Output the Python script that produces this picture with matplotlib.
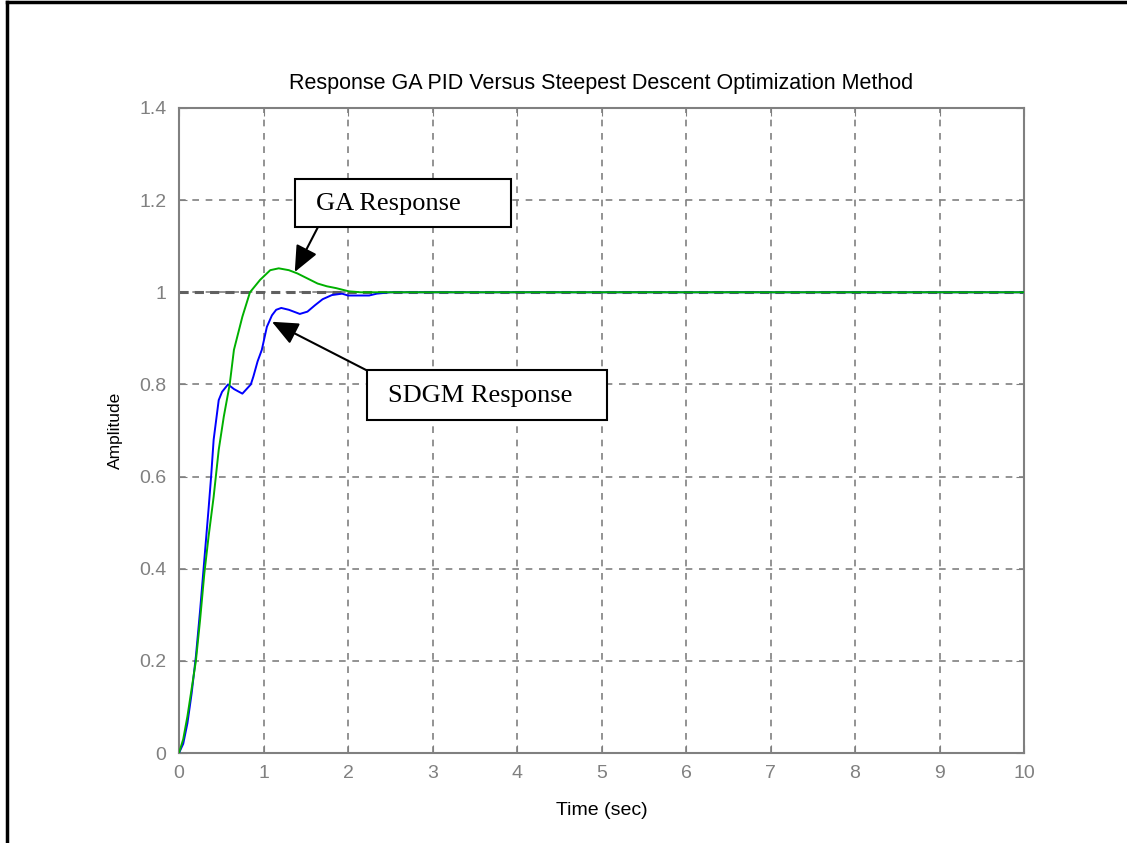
import matplotlib.pyplot as plt
from matplotlib.patches import Rectangle

# step responses
t_sdgm = [0, 0.05, 0.1, 0.15, 0.2, 0.25, 0.3, 0.35, 0.38, 0.41, 0.47, 0.51, 0.58,
          0.65, 0.75, 0.85, 0.88, 0.93, 0.98, 1.04, 1.1, 1.15, 1.21, 1.3, 1.43,
          1.52, 1.61, 1.7, 1.81, 1.93, 2.0, 2.25, 2.34, 2.5, 10]
y_sdgm = [0, 0.02, 0.065, 0.13, 0.21, 0.31, 0.42, 0.53, 0.6, 0.68, 0.766, 0.784, 0.80,
          0.79, 0.78, 0.80, 0.817, 0.85, 0.875, 0.925, 0.95, 0.962, 0.966, 0.962, 0.953,
          0.958, 0.972, 0.985, 0.994, 0.997, 0.993, 0.993, 0.997, 1.0, 1.0]

t_ga = [0, 0.05, 0.1, 0.15, 0.2, 0.25, 0.3, 0.35, 0.41, 0.47, 0.53, 0.6, 0.65, 0.75,
        0.84, 0.96, 1.08, 1.18, 1.3, 1.4, 1.52, 1.64, 1.75, 1.86, 2.01, 2.15, 10]
y_ga = [0, 0.03, 0.08, 0.14, 0.2, 0.29, 0.39, 0.47, 0.556, 0.658, 0.73, 0.80, 0.875, 0.947,
        1.0, 1.027, 1.048, 1.052, 1.048, 1.041, 1.03, 1.019, 1.013, 1.009, 1.002, 1.0, 1.0]

xticks = list(range(0, 11))
yticks = [0, 0.2, 0.4, 0.6, 0.8, 1.0, 1.2, 1.4]
ytick_labels = ['0', '0.2', '0.4', '0.6', '0.8', '1', '1.2', '1.4']

W, H = 1127, 843
plt.rcParams['font.family'] = ['Liberation Sans', 'DejaVu Sans']

fig = plt.figure(figsize=(W / 100, H / 100), dpi=100)
ax = fig.add_axes([179 / W, 1 - 753 / H, 845 / W, 645 / H])

ax.axhline(1.0, color='#606060', linestyle=(0, (3, 2)), linewidth=2.2, zorder=2)
ax.plot(t_sdgm, y_sdgm, color='#0000ff', linewidth=1.4, zorder=3)
ax.plot(t_ga, y_ga, color='#00b000', linewidth=1.4, zorder=4)

ax.set_xlim(0, 10)
ax.set_ylim(0, 1.4)
ax.set_xticks(xticks)
ax.set_yticks(yticks)
ax.set_yticklabels(ytick_labels)
ax.grid(True, color='#808080', linestyle=(0, (4, 4)), linewidth=1.2)
ax.tick_params(direction='in', length=6, colors='#808080', labelsize=14, pad=9,
               top=True, right=True)
for sp in ax.spines.values():
    sp.set_color('#808080')
    sp.set_linewidth(1.5)

ax.set_title('Response GA PID Versus Steepest Descent Optimization Method',
             fontsize=15.5, pad=14)
ax.set_xlabel('Time (sec)', fontsize=14, labelpad=14)
ax.set_ylabel('Amplitude', fontsize=12.5, labelpad=12)


def fig_px(x, y):
    # image pixel position (from top-left) -> figure fraction
    return (x / W, 1 - y / H)


arrow = dict(arrowstyle='-|>,head_length=0.8,head_width=0.35', color='black',
             linewidth=1.5, shrinkA=0, shrinkB=0, mutation_scale=20)


def label_box(x0, y0, x1, y1, text_x, text):
    # white box with black edge, text left-aligned inside (pixel coords)
    fx, fy = fig_px(x0, y1)
    fig.patches.append(Rectangle((fx, fy), (x1 - x0) / W, (y1 - y0) / H,
                                 transform=fig.transFigure, facecolor='white',
                                 edgecolor='black', linewidth=1.5, zorder=6))
    fig.text(*fig_px(text_x, (y0 + y1) / 2 + 1), text, fontsize=19,
             family='Liberation Serif', ha='left', va='center', zorder=7)


# GA Response label and arrow
ax.annotate('', xy=(1.37, 1.044), xytext=fig_px(318, 227), textcoords='figure fraction',
            arrowprops=arrow, zorder=6)
label_box(295, 179, 511, 227, 316, 'GA Response')

# SDGM Response label and arrow
ax.annotate('', xy=(1.10, 0.936), xytext=fig_px(368, 371), textcoords='figure fraction',
            arrowprops=arrow, zorder=6)
label_box(367, 370, 607, 420, 388, 'SDGM Response')

# outer frame lines (top and left) as in the reference
fig.add_artist(plt.Line2D([7 / W, 7 / W], [0, 1 - 2 / H], color='black',
                          linewidth=2.5, transform=fig.transFigure))
fig.add_artist(plt.Line2D([7 / W, 1], [1 - 2 / H, 1 - 2 / H], color='black',
                          linewidth=2.5, transform=fig.transFigure))

fig.savefig('out.png', dpi=100)
